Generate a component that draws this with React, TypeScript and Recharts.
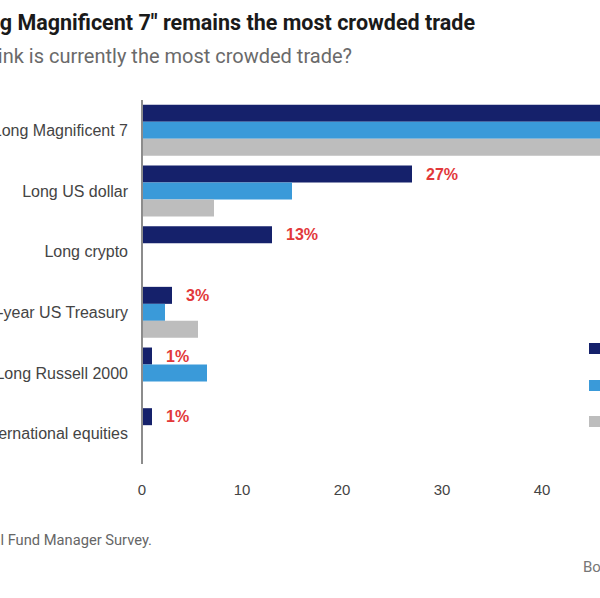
import { BarChart, Bar, XAxis, YAxis, Legend, LabelList } from 'recharts';

// The reference is a crop of a wider chart, so the frame clips text on the left and right.
const categories = [
  'Long Magnificent 7',
  'Long US dollar',
  'Long crypto',
  'Long 10-year US Treasury',
  'Long Russell 2000',
  'Long international equities',
];
const seriesNames = ['Latest', 'Previous', 'Earlier'];
const latestValues = [56, 27, 13, 3, 1, 1];
const prevValues = [61, 15, 0, 2.3, 6.5, 0];
const olderValues = [52, 7.2, 0, 5.6, 0, 0];
const xTicks = [0, 10, 20, 30, 40];

const COLORS = ['#15216b', '#3a9ad9', '#bdbdbd'];
const FRAME_W = 600;
const FRAME_H = 598;
const AXIS_X = 142; // where the y axis line sits in the frame
const Y_AXIS_W = 200;

const data = categories.map((name, i) => ({
  name,
  latest: latestValues[i],
  prev: prevValues[i],
  older: olderValues[i],
}));

// only the swatches are inside the crop
function LegendBox() {
  return (
    <div>
      {seriesNames.map((s, i) => (
        <div key={s} style={{ height: 11, marginBottom: 25.5 }}>
          <span style={{ width: 11, height: 11, background: COLORS[i], display: 'inline-block' }} />
        </div>
      ))}
    </div>
  );
}

export default function App() {
  const left = AXIS_X - Y_AXIS_W;
  return (
    <div
      style={{
        position: 'fixed',
        left: 0,
        top: 0,
        width: FRAME_W,
        height: FRAME_H,
        overflow: 'hidden',
        background: '#fff',
      }}
    >
      <div
        style={{
          position: 'absolute',
          right: FRAME_W - 475,
          top: 12,
          whiteSpace: 'nowrap',
          fontFamily: 'Roboto',
          fontWeight: 700,
          fontSize: 21.5,
          lineHeight: 1,
          color: '#1a1a1a',
        }}
      >
        "Long Magnificent 7" remains the most crowded trade
      </div>
      <div
        style={{
          position: 'absolute',
          right: FRAME_W - 352,
          top: 46,
          whiteSpace: 'nowrap',
          fontFamily: 'Roboto',
          fontSize: 20,
          lineHeight: 1,
          color: '#6a6a6a',
        }}
      >
        What do you think is currently the most crowded trade?
      </div>

      <div style={{ position: 'absolute', left, top: 0 }}>
        <BarChart
          width={Y_AXIS_W + 700}
          height={504}
          data={data}
          layout="vertical"
          margin={{ top: 100, right: 0, bottom: 0, left: 0 }}
          barCategoryGap="8%"
          barGap={0}
        >
          <XAxis
            type="number"
            domain={[0, 70]}
            ticks={xTicks}
            axisLine={false}
            tickLine={false}
            tickSize={0}
            tickMargin={20}
            height={40}
            tick={{ fill: '#444', fontSize: 15, fontFamily: 'Liberation Sans' }}
          />
          <YAxis
            type="category"
            dataKey="name"
            width={Y_AXIS_W}
            tickLine={false}
            tickSize={0}
            tickMargin={14}
            axisLine={{ stroke: '#8c8c8c', strokeWidth: 2 }}
            tick={{ fill: '#444', fontSize: 16, fontFamily: 'Liberation Sans' }}
          />
          <Legend
            layout="vertical"
            align="center"
            verticalAlign="middle"
            wrapperStyle={{ left: 589 - left, top: 340, width: 40 }}
            content={() => <LegendBox />}
          />
          <Bar dataKey="latest" name={seriesNames[0]} fill={COLORS[0]} isAnimationActive={false}>
            <LabelList
              dataKey="latest"
              position="right"
              offset={14}
              formatter={(v: number) => `${v}%`}
              fill="#e2383a"
              fontSize={16}
              fontWeight="bold"
              fontFamily="Liberation Sans"
            />
          </Bar>
          <Bar dataKey="prev" name={seriesNames[1]} fill={COLORS[1]} isAnimationActive={false} />
          <Bar dataKey="older" name={seriesNames[2]} fill={COLORS[2]} isAnimationActive={false} />
        </BarChart>
      </div>

      <div
        style={{
          position: 'absolute',
          right: FRAME_W - 152,
          top: 533,
          whiteSpace: 'nowrap',
          fontFamily: 'Roboto',
          fontSize: 14.7,
          lineHeight: 1,
          color: '#666',
        }}
      >
        Source: BofA Global Fund Manager Survey.
      </div>
      <div
        style={{
          position: 'absolute',
          left: 583,
          top: 560,
          whiteSpace: 'nowrap',
          fontFamily: 'Roboto',
          fontSize: 15,
          lineHeight: 1,
          color: '#777',
        }}
      >
        BofA Global Research
      </div>
    </div>
  );
}
